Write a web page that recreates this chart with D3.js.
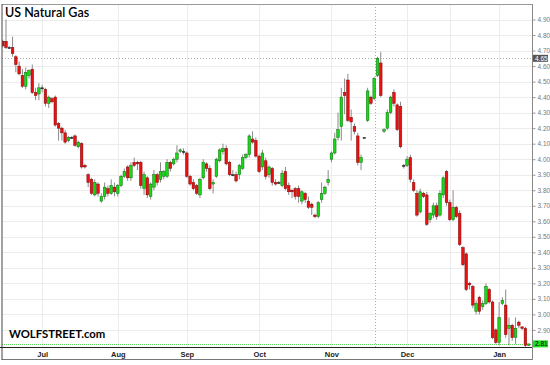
<!DOCTYPE html>
<html><head><meta charset="utf-8">
<script src="https://cdn.jsdelivr.net/npm/d3@7"></script>
<style>body{margin:0;background:#fff}svg{display:block}</style>
</head><body><svg id="c" width="550" height="365"></svg>
<script>
const opens=[4.76,4.76,4.72,4.72,4.66,4.60,4.54,4.47,4.54,4.58,4.43,4.42,4.46,4.45,4.36,4.39,4.40,4.23,4.20,4.17,4.12,4.14,4.15,4.08,4.10,3.96,3.90,3.87,3.77,3.84,3.73,3.76,3.81,3.78,3.82,3.78,3.83,3.89,3.95,3.88,3.98,3.98,3.98,3.81,3.88,3.76,3.82,3.90,3.87,3.89,3.89,3.98,3.97,4.00,4.05,4.05,4.04,3.89,3.85,3.83,3.77,3.88,3.97,3.94,3.84,3.89,3.99,4.05,4.07,3.98,3.90,3.90,3.90,3.94,4.01,4.03,4.13,4.12,4.02,3.95,3.99,3.90,3.94,3.85,3.85,3.83,3.92,3.83,3.80,3.81,3.81,3.73,3.78,3.73,3.71,3.64,3.63,3.74,3.78,3.85,4.00,4.04,4.14,4.21,4.43,4.51,4.27,4.21,4.15,3.98,4.14,4.25,4.40,4.39,4.54,4.62,4.18,4.20,4.30,4.43,4.35,4.34,3.96,3.96,4.01,3.85,3.78,3.66,3.78,3.77,3.61,3.64,3.70,3.64,3.77,3.92,3.72,3.61,3.69,3.65,3.43,3.39,3.20,3.18,3.02,3.11,3.05,3.07,3.16,3.08,2.90,2.82,3.07,3.06,2.91,2.93,2.85,2.95,2.92,2.91,2.80];
const highs=[4.77,4.90,4.73,4.79,4.67,4.63,4.58,4.59,4.58,4.61,4.46,4.49,4.48,4.46,4.41,4.40,4.41,4.24,4.21,4.19,4.15,4.15,4.16,4.12,4.11,3.97,3.91,3.88,3.87,3.85,3.78,3.85,3.83,3.87,3.85,3.84,3.90,3.94,3.96,3.98,4.01,3.99,3.99,3.92,3.89,3.85,3.93,3.91,3.98,3.93,4.00,3.99,4.01,4.09,4.07,4.07,4.05,3.90,3.87,3.84,3.88,4.00,3.98,3.96,3.87,4.01,4.07,4.10,4.09,3.99,3.93,3.92,3.97,4.03,4.04,4.16,4.18,4.14,4.03,4.06,4.01,3.96,3.95,3.87,3.86,3.93,3.95,3.85,3.81,3.82,3.83,3.80,3.79,3.76,3.72,3.65,3.73,3.85,3.83,3.93,4.05,4.17,4.30,4.46,4.52,4.55,4.32,4.23,4.17,4.03,4.14,4.46,4.41,4.53,4.66,4.69,4.20,4.32,4.41,4.45,4.36,4.37,3.97,4.02,4.03,3.87,3.80,3.81,3.79,3.79,3.66,3.72,3.72,3.80,3.89,3.93,3.74,3.80,3.70,3.67,3.44,3.40,3.21,3.19,3.09,3.12,3.09,3.20,3.17,3.09,2.91,3.08,3.11,3.16,2.98,2.94,2.98,2.96,2.92,2.92,2.81];
const lows=[4.72,4.71,4.71,4.66,4.56,4.54,4.46,4.45,4.52,4.42,4.38,4.38,4.43,4.34,4.33,4.36,4.21,4.12,4.12,4.10,4.11,4.13,4.08,4.07,3.94,3.94,3.82,3.77,3.76,3.76,3.72,3.74,3.76,3.77,3.76,3.76,3.82,3.88,3.86,3.86,3.95,3.93,3.81,3.77,3.75,3.74,3.80,3.83,3.85,3.87,3.88,3.92,3.96,3.98,4.04,4.03,3.88,3.83,3.80,3.77,3.75,3.87,3.92,3.80,3.78,3.88,3.98,4.03,3.96,3.89,3.89,3.85,3.87,3.93,4.00,4.01,4.10,4.01,3.91,3.93,3.87,3.88,3.83,3.83,3.84,3.82,3.80,3.77,3.75,3.74,3.72,3.71,3.72,3.68,3.64,3.62,3.62,3.72,3.77,3.83,3.98,4.03,4.12,4.12,4.29,4.24,4.12,4.16,3.96,3.93,4.14,4.24,4.35,4.38,4.53,4.40,4.17,4.19,4.29,4.34,4.18,4.07,3.94,3.95,3.85,3.79,3.63,3.65,3.75,3.57,3.59,3.62,3.61,3.63,3.75,3.70,3.60,3.60,3.62,3.44,3.31,3.15,3.16,3.04,3.00,3.00,3.03,3.06,3.07,2.84,2.81,2.80,3.06,2.85,2.80,2.83,2.81,2.91,2.90,2.79,2.80];
const closes=[4.73,4.72,4.72,4.68,4.61,4.55,4.47,4.56,4.57,4.43,4.41,4.46,4.46,4.36,4.40,4.37,4.22,4.20,4.17,4.11,4.14,4.14,4.09,4.11,3.95,3.95,3.85,3.78,3.85,3.78,3.76,3.82,3.78,3.83,3.79,3.83,3.89,3.92,3.88,3.96,3.96,3.97,3.83,3.90,3.77,3.84,3.90,3.85,3.92,3.92,3.98,3.94,4.00,4.04,4.06,4.05,3.89,3.84,3.81,3.78,3.87,3.98,3.94,3.81,3.85,4.00,4.06,4.07,3.97,3.90,3.90,3.86,3.96,4.01,4.03,4.15,4.11,4.02,3.92,4.04,3.89,3.95,3.85,3.84,3.85,3.91,3.81,3.79,3.79,3.76,3.76,3.79,3.74,3.69,3.69,3.63,3.72,3.78,3.82,3.87,4.04,4.13,4.19,4.40,4.41,4.25,4.24,4.18,3.98,4.01,4.14,4.44,4.36,4.52,4.65,4.41,4.19,4.30,4.40,4.36,4.19,4.08,3.96,4.00,3.87,3.80,3.64,3.79,3.76,3.58,3.65,3.70,3.63,3.78,3.88,3.72,3.61,3.69,3.63,3.45,3.32,3.16,3.19,3.06,3.07,3.02,3.07,3.18,3.08,2.85,2.82,2.98,3.09,2.87,2.93,2.85,2.91,2.93,2.91,2.80,2.81];
const monthLabels=["Jul","Aug","Sep","Oct","Nov","Dec","Jan"];
const monthIndex=[12,35,56,78,100,123,151];
const extraGridIndex=[136];
const yTicks=[2.9,3.0,3.1,3.2,3.3,3.4,3.5,3.6,3.7,3.8,3.9,4.0,4.1,4.2,4.3,4.4,4.5,4.6,4.7,4.8,4.9];
const lastPrice=2.81;
const crossPrice=4.65;
const crossIndex=113.2;

const svg=d3.select("#c");
const L=2,R=532,T=4,B=347,BB=359;
const n=opens.length;
const x=d3.scaleLinear().domain([0,n-1]).range([2.7,528.7]);
const y=d3.scaleLinear().domain([2.79,5.0]).range([B,T]);

svg.append("defs").append("clipPath").attr("id","pc").append("rect")
  .attr("x",L).attr("y",T).attr("width",R-L).attr("height",B-T);

// grid
const g=svg.append("g");
g.selectAll(".hg").data(yTicks).join("line")
  .attr("x1",L).attr("x2",R).attr("y1",d=>Math.round(y(d))+0.5).attr("y2",d=>Math.round(y(d))+0.5)
  .attr("stroke","#ececec").attr("stroke-width",1);
g.selectAll(".vg").data(monthIndex.concat(extraGridIndex)).join("line")
  .attr("x1",d=>Math.round(x(d))+0.5).attr("x2",d=>Math.round(x(d))+0.5).attr("y1",T).attr("y2",B)
  .attr("stroke","#ececec").attr("stroke-width",1);

// crosshair and last price lines
svg.append("line").attr("x1",L).attr("x2",R).attr("y1",Math.round(y(crossPrice))+0.5).attr("y2",Math.round(y(crossPrice))+0.5)
  .attr("stroke","#aaa").attr("stroke-dasharray","1,2");
svg.append("line").attr("x1",Math.round(x(crossIndex))+0.5).attr("x2",Math.round(x(crossIndex))+0.5).attr("y1",T).attr("y2",B)
  .attr("stroke","#aaa").attr("stroke-dasharray","1,2");
svg.append("line").attr("x1",L).attr("x2",R).attr("y1",Math.round(y(lastPrice))+0.5).attr("y2",Math.round(y(lastPrice))+0.5)
  .attr("stroke","#55d855").attr("stroke-dasharray","1,1");

// candles
const data=d3.range(n).map(i=>({i,o:opens[i],h:highs[i],l:lows[i],c:closes[i]}));
const cg=svg.append("g").attr("clip-path","url(#pc)");
cg.selectAll(".w").data(data).join("line")
  .attr("x1",d=>x(d.i)).attr("x2",d=>x(d.i)).attr("y1",d=>y(d.h)).attr("y2",d=>y(d.l))
  .attr("stroke","#8a8a8a").attr("stroke-width",1);
const bw=2.6;
cg.selectAll(".b").data(data).join("rect")
  .attr("x",d=>x(d.i)-bw/2).attr("width",bw)
  .attr("y",d=>y(Math.max(d.o,d.c)))
  .attr("height",d=>Math.max(1,y(Math.min(d.o,d.c))-y(Math.max(d.o,d.c))))
  .attr("fill",d=>d.c>d.o?"#18d818":(d.c<d.o?"#ec1010":"#222"))
  .attr("stroke",d=>d.c>d.o?"#0a6a0a":(d.c<d.o?"#7a0808":"#222"))
  .attr("stroke-width",0.5);

// frame
svg.append("line").attr("x1",L).attr("x2",R).attr("y1",T+0.5).attr("y2",T+0.5).attr("stroke","#999");
svg.append("line").attr("x1",L).attr("x2",R).attr("y1",BB+0.5).attr("y2",BB+0.5).attr("stroke","#777");
svg.append("line").attr("x1",L).attr("x2",L).attr("y1",T).attr("y2",BB+1).attr("stroke","#444");

// y axis (right)
const ya=svg.append("g").attr("transform",`translate(${R+0.5},0)`)
  .call(d3.axisRight(y).tickValues(yTicks).tickFormat(d3.format(".2f")).tickSize(3).tickPadding(2));
ya.select(".domain").remove();
ya.append("line").attr("x1",0).attr("x2",0).attr("y1",T).attr("y2",BB+1).attr("stroke","#888");
ya.selectAll(".tick line").attr("stroke","#999");
ya.selectAll(".tick text").attr("fill","#777").style("font-family","Liberation Sans, Arial, sans-serif").style("font-size","6.5px");

// value boxes
function box(v,bg,fg){
  const yy=y(v);
  svg.append("rect").attr("x",R+1).attr("y",yy-3.5).attr("width",15).attr("height",7).attr("fill",bg);
  svg.append("text").attr("x",R+3).attr("y",yy).attr("dy","0.35em").text(d3.format(".2f")(v))
    .attr("fill",fg).style("font-family","Liberation Sans, Arial, sans-serif").style("font-size","6.5px");
}
box(crossPrice,"#555","#fff");
box(lastPrice,"#22dd22","#000");

// x axis
const xa=svg.append("g").attr("transform",`translate(0,${B+0.5})`)
  .call(d3.axisBottom(x).tickValues(monthIndex).tickFormat((d,i)=>monthLabels[i]).tickSize(0).tickPadding(4));
xa.select(".domain").remove();
svg.append("line").attr("x1",0).attr("x2",R).attr("y1",B+0.5).attr("y2",B+0.5).attr("stroke","#222");
xa.selectAll(".tick text").attr("fill","#222").style("font-family","Liberation Sans, Arial, sans-serif")
  .style("font-size","7.5px").style("font-weight","bold");

// titles
svg.append("text").attr("x",5).attr("y",17).text("US Natural Gas")
  .style("font-family","Lato, sans-serif").style("font-size","12.5px").style("font-weight","600").attr("fill","#000");
svg.append("text").attr("x",9).attr("y",338).text("WOLFSTREET.com")
  .style("font-family","Lato, sans-serif").style("font-size","11.3px").style("font-weight","bold").attr("fill","#000");
</script></body></html>
